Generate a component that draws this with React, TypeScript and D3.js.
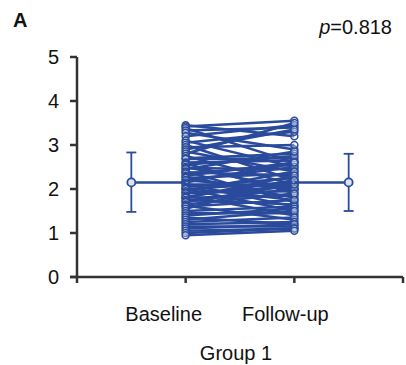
import React from 'react';
import * as d3 from 'd3';

// paired scores, one entry per patient
const baseline = [
  3.45, 3.42, 3.38, 3.33, 3.28, 3.2, 3.1, 3.05, 3.0, 2.95, 2.9, 2.85, 2.8, 2.75, 2.7, 2.68,
  2.6, 2.58, 2.55, 2.5, 2.48, 2.45, 2.4, 2.38, 2.35, 2.3, 2.28, 2.25, 2.2, 2.2, 2.15, 2.12,
  2.1, 2.05, 2.02, 2.0, 2.0, 1.95, 1.92, 1.9, 1.85, 1.82, 1.8, 1.8, 1.75, 1.72, 1.7, 1.65,
  1.62, 1.6, 1.55, 1.5, 1.45, 1.4, 1.35, 1.3, 1.25, 1.2, 1.15, 1.1, 1.05, 1.0, 0.95,
];
const followUp = [
  3.2, 3.55, 2.6, 3.4, 2.9, 3.45, 2.5, 3.3, 2.2, 3.0, 3.35, 2.4, 3.5, 2.1, 2.8, 2.7,
  2.65, 1.9, 2.75, 2.0, 2.45, 2.85, 1.7, 2.3, 2.55, 2.6, 1.8, 2.35, 2.0, 2.5, 2.6, 1.6,
  2.1, 2.25, 1.75, 1.5, 2.15, 2.4, 1.95, 2.05, 1.4, 2.2, 1.85, 2.3, 1.65, 2.0, 2.1, 1.9,
  1.3, 1.75, 2.2, 1.6, 1.45, 1.55, 1.2, 1.5, 1.35, 1.25, 1.15, 1.2, 1.1, 1.1, 1.05,
];
const groupLabels = ['Baseline', 'Follow-up'];
const summary = [
  { pos: 0.5, mean: 2.15, lo: 1.48, hi: 2.83 },
  { pos: 2.5, mean: 2.15, lo: 1.5, hi: 2.8 },
];
const yTicks = [0, 1, 2, 3, 4, 5];
const xTicks = [0, 1, 2, 3];

const blue = '#2a4a9c';
const axisColor = '#333';

export default function App() {
  const x = d3.scaleLinear().domain([0, 3]).range([77, 403]);
  const y = d3.scaleLinear().domain([0, 5]).range([277, 57]);

  return (
    <svg width={406} height={365} style={{ position: 'absolute', left: 0, top: 0, background: '#fff' }}
      fontFamily="Liberation Sans, Arial, sans-serif">
      <text x={13} y={27} fontSize={20} fontWeight="bold" fill="#111">A</text>
      <text x={392} y={34} fontSize={20} textAnchor="end" fill="#111">
        <tspan fontStyle="italic">p</tspan>=0.818
      </text>

      {/* paired lines */}
      <g stroke={blue} strokeWidth={2.5} fill="none">
        {baseline.map((b, i) => (
          <line key={i} x1={x(1)} y1={y(b)} x2={x(2)} y2={y(followUp[i])} />
        ))}
      </g>
      <g stroke={blue} strokeWidth={1.5} fill="#fff" fillOpacity={0.3}>
        {baseline.map((b, i) => (
          <circle key={'b' + i} cx={x(1)} cy={y(b)} r={3.5} />
        ))}
        {followUp.map((f, i) => (
          <circle key={'f' + i} cx={x(2)} cy={y(f)} r={3.5} />
        ))}
      </g>

      {/* mean connecting line and error bars */}
      <line x1={x(summary[0].pos)} x2={x(1)} y1={y(summary[0].mean)} y2={y(summary[0].mean)} stroke={blue} strokeWidth={2.5} />
      <line x1={x(2)} x2={x(summary[1].pos)} y1={y(summary[1].mean)} y2={y(summary[1].mean)} stroke={blue} strokeWidth={2.5} />
      {summary.map((s, i) => (
        <g key={i} stroke={blue} strokeWidth={1.8}>
          <line x1={x(s.pos)} x2={x(s.pos)} y1={y(s.lo)} y2={y(s.hi)} />
          <line x1={x(s.pos) - 5} x2={x(s.pos) + 5} y1={y(s.lo)} y2={y(s.lo)} />
          <line x1={x(s.pos) - 5} x2={x(s.pos) + 5} y1={y(s.hi)} y2={y(s.hi)} />
          <circle cx={x(s.pos)} cy={y(s.mean)} r={4} fill="#dde3f0" />
        </g>
      ))}

      {/* y axis */}
      <line x1={x(0)} x2={x(0)} y1={y(0)} y2={y(5)} stroke={axisColor} strokeWidth={2.5} />
      {yTicks.map((t) => (
        <g key={t}>
          <line x1={x(0) - 7} x2={x(0)} y1={y(t)} y2={y(t)} stroke={axisColor} strokeWidth={2.5} />
          <text x={59} y={y(t)} dy="0.36em" fontSize={20} textAnchor="end" fill="#111">{t}</text>
        </g>
      ))}

      {/* x axis */}
      <line x1={x(0) - 7} x2={x(3)} y1={y(0)} y2={y(0)} stroke={axisColor} strokeWidth={2.5} />
      {xTicks.map((t) => (
        <line key={t} x1={x(t)} x2={x(t)} y1={y(0)} y2={y(0) + 6} stroke={axisColor} strokeWidth={2.5} />
      ))}
      {groupLabels.map((g, i) => (
        <text key={g} x={x(i + 1) - (i === 0 ? 22 : 9)} y={321} fontSize={20} textAnchor="middle" fill="#111">{g}</text>
      ))}
      <text x={236} y={360} fontSize={20} textAnchor="middle" fill="#111">Group 1</text>
    </svg>
  );
}
